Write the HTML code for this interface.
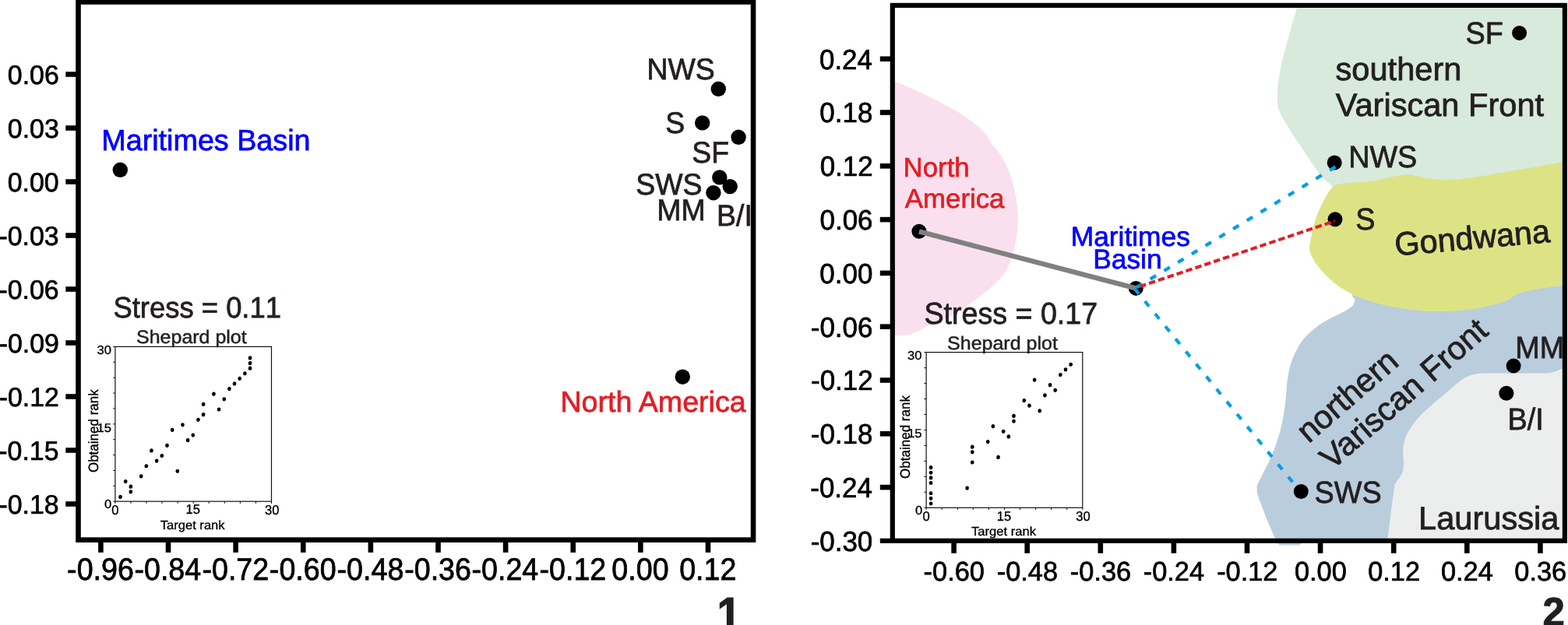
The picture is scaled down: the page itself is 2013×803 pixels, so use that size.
<!DOCTYPE html>
<html lang="en">
<head>
<meta charset="utf-8">
<title>NMDS plots</title>
<style>
html,body{margin:0;padding:0;background:#fff;}
body{width:2013px;height:803px;overflow:hidden;}
svg{display:block;font-family:"Liberation Sans", sans-serif;text-rendering:geometricPrecision;}
.nk{font-kerning:none;}
</style>
</head>
<body>
<svg width="2013" height="803" viewBox="0 0 2013 803">
<rect x="0" y="0" width="2013" height="803" fill="#fff"/>
<g id="regions">
<path fill="#fae0ee" d="M1143.0,102.5 C1144.0,102.8 1145.8,103.3 1149.0,104.6 C1152.2,105.9 1156.4,107.6 1162.4,110.2 C1168.4,112.8 1177.3,116.8 1184.8,120.3 C1192.3,123.8 1199.8,127.6 1207.3,131.5 C1214.8,135.4 1223.0,139.7 1229.7,143.8 C1236.4,147.9 1242.4,152.2 1247.6,156.1 C1252.8,160.0 1257.4,163.7 1261.1,167.4 C1264.8,171.2 1267.9,175.5 1270.0,178.6 C1272.1,181.7 1273.0,184.9 1273.6,186.2 L1273.6,186.2 C1274.9,187.5 1278.5,190.5 1281.3,194.3 C1284.1,198.1 1287.6,203.8 1290.2,208.8 C1292.8,213.8 1294.9,218.5 1297.0,224.5 C1299.1,230.5 1301.0,237.3 1302.6,244.7 C1304.2,252.1 1305.7,262.7 1306.4,269.0 C1307.1,275.3 1307.2,277.2 1307.0,282.4 C1306.8,287.6 1306.2,294.4 1305.5,300.4 C1304.8,306.4 1304.0,312.3 1302.6,318.3 C1301.2,324.3 1299.1,331.0 1297.0,336.2 C1294.9,341.4 1293.2,345.2 1290.2,349.7 C1287.2,354.2 1283.5,358.6 1279.0,363.1 C1274.5,367.6 1268.9,372.1 1263.3,376.6 C1257.7,381.1 1251.8,385.5 1245.4,390.0 C1239.1,394.5 1231.2,400.2 1225.2,403.8 C1219.2,407.4 1213.5,409.5 1209.2,411.4 C1204.9,413.3 1202.6,414.0 1199.3,415.4 C1196.0,416.8 1192.6,418.1 1189.3,419.8 C1186.0,421.5 1182.7,423.7 1179.4,425.3 C1176.1,426.9 1172.7,428.5 1169.4,429.5 C1166.1,430.5 1162.7,431.1 1159.4,431.3 C1156.1,431.6 1152.2,431.1 1149.5,431.0 C1146.8,430.9 1144.1,430.7 1143.0,430.6  Z"/>
<path fill="#d8eadc" d="M1666.3,5.0 C1666.1,5.8 1666.2,6.1 1665.0,10.1 C1663.8,14.1 1661.3,22.6 1659.4,29.1 C1657.5,35.6 1655.7,42.6 1653.8,49.3 C1651.9,56.0 1649.9,62.8 1648.2,69.5 C1646.5,76.2 1644.9,83.4 1643.7,89.7 C1642.5,96.0 1641.4,101.6 1640.8,107.6 C1640.2,113.6 1639.9,120.4 1639.9,125.6 C1639.9,130.8 1640.7,136.8 1640.8,139.0 L1640.8,139.0 C1641.6,140.8 1644.0,146.6 1645.8,150.0 C1647.6,153.4 1649.5,155.8 1651.6,159.2 C1653.6,162.6 1654.8,165.0 1658.1,170.2 C1661.4,175.4 1667.4,184.1 1671.6,190.4 C1675.8,196.8 1680.0,203.1 1683.5,208.3 C1687.0,213.5 1690.1,218.4 1692.5,221.7 C1694.9,225.0 1696.0,225.9 1698.0,228.0 C1700.0,230.1 1702.3,232.0 1704.5,234.0 C1706.7,236.0 1709.8,238.9 1710.9,239.9 L1760.0,250.0 L2011.0,250.0 L2011.0,5.0  Z"/>
<path fill="#b9cddd" d="M1760.0,384.0 C1756.1,383.2 1740.2,378.7 1736.8,379.0 C1733.4,379.3 1739.6,383.3 1739.4,385.7 C1739.2,388.1 1738.0,391.1 1735.7,393.5 C1733.4,395.9 1730.3,397.7 1725.6,400.3 C1720.9,402.9 1713.6,405.9 1707.6,409.2 C1701.6,412.5 1695.3,416.1 1689.7,420.4 C1684.1,424.7 1678.5,429.6 1674.0,435.0 C1669.5,440.4 1665.8,447.0 1662.8,453.0 C1659.8,459.0 1657.8,464.9 1656.1,470.9 C1654.4,476.9 1653.5,482.4 1652.7,488.8 C1651.9,495.2 1651.8,502.0 1651.1,509.0 C1650.3,516.0 1649.2,524.4 1648.2,531.0 C1647.2,537.6 1646.3,542.3 1644.8,548.5 C1643.3,554.7 1641.4,561.5 1639.2,568.1 C1637.0,574.7 1634.4,581.6 1631.4,588.3 C1628.4,595.0 1624.3,602.5 1621.3,608.5 C1618.3,614.5 1614.8,621.6 1613.5,624.2 L1613.5,624.2 C1613.7,626.1 1613.5,630.9 1614.6,635.4 C1615.7,639.9 1618.0,645.1 1620.2,651.1 C1622.4,657.1 1625.2,664.6 1628.0,671.3 C1630.8,678.0 1634.6,686.5 1637.0,691.4 C1639.4,696.2 1641.7,698.9 1642.6,700.4 L1668.0,700.4 L1671.0,697.6 L2011.0,697.6 L2011.0,360.0 L1760.0,360.0  Z"/>
<path fill="#eceeed" d="M2011.0,471.8 C2010.2,472.1 2009.8,472.2 2006.3,473.4 C2002.8,474.6 1996.1,478.0 1990.1,479.0 C1984.0,480.0 1973.3,479.4 1970.0,479.5 L1913.9,479.5 L1913.9,479.5 C1911.3,479.6 1903.1,479.4 1898.2,480.1 C1893.3,480.8 1888.8,481.8 1884.7,483.5 C1880.6,485.2 1878.0,486.8 1873.5,490.2 C1869.0,493.6 1863.4,498.9 1857.8,503.7 C1852.2,508.4 1845.5,513.9 1840.0,518.7 C1834.5,523.5 1829.2,527.8 1824.5,532.7 C1819.8,537.6 1815.4,543.3 1812.0,548.2 C1808.6,553.1 1806.1,557.4 1804.3,562.3 C1802.5,567.2 1801.6,572.1 1801.2,577.8 C1800.8,583.5 1802.3,591.3 1802.0,596.5 C1801.7,601.7 1801.5,604.8 1799.6,609.0 C1797.7,613.2 1792.1,619.8 1790.6,622.0 L1790.6,622.0 C1790.2,625.2 1788.8,635.8 1788.0,641.4 C1787.2,647.0 1786.7,650.5 1786.0,655.6 C1785.3,660.7 1784.7,666.2 1784.0,672.2 C1783.3,678.2 1782.1,687.0 1781.6,691.4 C1781.1,695.8 1780.9,697.4 1780.8,698.6 L1787.0,698.6 L1788.0,697.4 L2011.0,697.4  Z"/>
<path fill="#dde385" d="M2011.0,207.0 C2010.2,207.2 2014.2,206.4 2006.0,207.9 C1997.8,209.4 1977.4,213.3 1961.7,216.1 C1946.0,218.9 1924.4,222.7 1911.9,224.8 C1899.5,226.9 1895.3,227.6 1887.0,228.6 C1878.7,229.6 1870.3,230.8 1862.0,231.0 C1853.7,231.2 1844.2,230.6 1837.2,229.8 C1830.2,229.0 1824.4,227.0 1820.0,226.2 C1815.6,225.3 1814.0,224.9 1810.6,224.7 C1807.2,224.5 1804.3,224.5 1799.4,225.1 C1794.5,225.7 1787.0,227.4 1781.4,228.5 C1775.8,229.6 1770.9,230.9 1765.7,231.8 C1760.5,232.7 1755.6,233.6 1750.0,234.1 C1744.4,234.6 1737.3,234.4 1732.1,234.8 C1726.9,235.2 1722.2,235.8 1718.7,236.6 C1715.2,237.4 1712.2,239.3 1710.9,239.9 L1710.9,239.9 C1709.6,241.7 1705.6,246.4 1703.0,250.9 C1700.4,255.4 1697.7,260.6 1695.1,266.6 C1692.5,272.6 1689.3,280.1 1687.3,286.8 C1685.2,293.5 1683.8,301.4 1682.8,307.0 C1681.8,312.6 1680.8,316.1 1681.2,320.2 C1681.6,324.3 1683.0,327.4 1685.2,331.5 C1687.4,335.6 1689.7,339.6 1694.2,344.8 C1698.7,350.0 1705.0,357.2 1712.1,362.8 C1719.2,368.4 1727.4,374.0 1736.8,378.5 C1746.2,383.0 1757.4,386.7 1768.2,389.7 C1779.0,392.7 1790.6,394.7 1801.8,396.4 C1813.0,398.1 1826.1,399.3 1835.4,399.9 C1844.7,400.5 1850.3,400.4 1857.8,400.1 C1865.3,399.8 1872.8,399.2 1880.3,398.3 C1887.8,397.4 1895.2,396.4 1902.7,394.9 C1910.2,393.4 1919.1,391.2 1925.1,389.3 C1931.1,387.4 1934.9,385.6 1938.6,383.7 C1942.3,381.8 1944.2,379.6 1947.5,378.1 C1950.8,376.6 1953.1,376.1 1958.7,374.8 C1964.3,373.5 1973.3,371.6 1981.2,370.3 C1989.1,369.0 2001.3,367.6 2006.3,366.9 C2011.3,366.2 2010.2,366.4 2011.0,366.3  Z"/>
</g>
<rect x="84.3" y="92.2" width="13.9" height="6.6" fill="#000"/>
<rect x="84.3" y="161.2" width="13.9" height="6.6" fill="#000"/>
<rect x="84.3" y="230.2" width="13.9" height="6.6" fill="#000"/>
<rect x="84.3" y="299.2" width="13.9" height="6.6" fill="#000"/>
<rect x="84.3" y="368.2" width="13.9" height="6.6" fill="#000"/>
<rect x="84.3" y="437.2" width="13.9" height="6.6" fill="#000"/>
<rect x="84.3" y="506.2" width="13.9" height="6.6" fill="#000"/>
<rect x="84.3" y="575.2" width="13.9" height="6.6" fill="#000"/>
<rect x="84.3" y="644.2" width="13.9" height="6.6" fill="#000"/>
<text stroke="#000" stroke-width="0.68" class="nk" transform="translate(9.85,108.46) scale(1,1.0146)" font-size="33.87" fill="#000">0.06</text>
<text stroke="#000" stroke-width="0.68" class="nk" transform="translate(9.85,177.46) scale(1,1.0146)" font-size="33.87" fill="#000">0.03</text>
<text stroke="#000" stroke-width="0.68" class="nk" transform="translate(9.68,246.46) scale(1,1.0146)" font-size="33.87" fill="#000">0.00</text>
<text stroke="#000" stroke-width="0.68" class="nk" transform="translate(-1.5,315.46) scale(1,1.0146)" font-size="33.87" fill="#000">-0.03</text>
<text stroke="#000" stroke-width="0.68" class="nk" transform="translate(-1.5,384.46) scale(1,1.0146)" font-size="33.87" fill="#000">-0.06</text>
<text stroke="#000" stroke-width="0.68" class="nk" transform="translate(-1.33,453.46) scale(1,1.0146)" font-size="33.87" fill="#000">-0.09</text>
<text stroke="#000" stroke-width="0.68" class="nk" transform="translate(-1.33,522.46) scale(1,1.0146)" font-size="33.87" fill="#000">-0.12</text>
<text stroke="#000" stroke-width="0.68" class="nk" transform="translate(-1.67,591.46) scale(1,1.0146)" font-size="33.87" fill="#000">-0.15</text>
<text stroke="#000" stroke-width="0.68" class="nk" transform="translate(-1.5,660.46) scale(1,1.0146)" font-size="33.87" fill="#000">-0.18</text>
<rect x="126.1" y="695.95" width="6.6" height="13.9" fill="#000"/>
<rect x="212.72" y="695.95" width="6.6" height="13.9" fill="#000"/>
<rect x="299.34" y="695.95" width="6.6" height="13.9" fill="#000"/>
<rect x="385.96" y="695.95" width="6.6" height="13.9" fill="#000"/>
<rect x="472.58" y="695.95" width="6.6" height="13.9" fill="#000"/>
<rect x="559.2" y="695.95" width="6.6" height="13.9" fill="#000"/>
<rect x="645.82" y="695.95" width="6.6" height="13.9" fill="#000"/>
<rect x="732.44" y="695.95" width="6.6" height="13.9" fill="#000"/>
<rect x="819.06" y="695.95" width="6.6" height="13.9" fill="#000"/>
<rect x="905.68" y="695.95" width="6.6" height="13.9" fill="#000"/>
<text stroke="#000" stroke-width="0.75" class="nk" transform="translate(86.11,745.4) scale(1,1.0631)" font-size="37.63" fill="#000">-0.96</text>
<text stroke="#000" stroke-width="0.75" class="nk" transform="translate(172.44,745.4) scale(1,1.0631)" font-size="37.63" fill="#000">-0.84</text>
<text stroke="#000" stroke-width="0.75" class="nk" transform="translate(259.44,745.4) scale(1,1.0631)" font-size="37.63" fill="#000">-0.72</text>
<text stroke="#000" stroke-width="0.75" class="nk" transform="translate(345.87,745.4) scale(1,1.0631)" font-size="37.63" fill="#000">-0.60</text>
<text stroke="#000" stroke-width="0.75" class="nk" transform="translate(432.59,745.4) scale(1,1.0631)" font-size="37.63" fill="#000">-0.48</text>
<text stroke="#000" stroke-width="0.75" class="nk" transform="translate(519.21,745.4) scale(1,1.0631)" font-size="37.63" fill="#000">-0.36</text>
<text stroke="#000" stroke-width="0.75" class="nk" transform="translate(605.54,745.4) scale(1,1.0631)" font-size="37.63" fill="#000">-0.24</text>
<text stroke="#000" stroke-width="0.75" class="nk" transform="translate(692.54,745.4) scale(1,1.0631)" font-size="37.63" fill="#000">-0.12</text>
<text stroke="#000" stroke-width="0.75" class="nk" transform="translate(785.37,745.4) scale(1,1.0631)" font-size="37.63" fill="#000">0.00</text>
<text stroke="#000" stroke-width="0.75" class="nk" transform="translate(872.18,745.4) scale(1,1.0631)" font-size="37.63" fill="#000">0.12</text>
<rect x="1129.8" y="72.4" width="13.9" height="6.6" fill="#000"/>
<rect x="1129.8" y="141.2" width="13.9" height="6.6" fill="#000"/>
<rect x="1129.8" y="210" width="13.9" height="6.6" fill="#000"/>
<rect x="1129.8" y="278.8" width="13.9" height="6.6" fill="#000"/>
<rect x="1129.8" y="347.6" width="13.9" height="6.6" fill="#000"/>
<rect x="1129.8" y="416.4" width="13.9" height="6.6" fill="#000"/>
<rect x="1129.8" y="485.2" width="13.9" height="6.6" fill="#000"/>
<rect x="1129.8" y="554" width="13.9" height="6.6" fill="#000"/>
<rect x="1129.8" y="622.8" width="13.9" height="6.6" fill="#000"/>
<rect x="1129.8" y="691.7" width="14" height="6.2" fill="#000"/>
<text stroke="#000" stroke-width="0.7" class="nk" transform="translate(1052,88.64) scale(1,1.0321)" font-size="34.93" fill="#000">0.24</text>
<text stroke="#000" stroke-width="0.7" class="nk" transform="translate(1052.35,157.44) scale(1,1.0321)" font-size="34.93" fill="#000">0.18</text>
<text stroke="#000" stroke-width="0.7" class="nk" transform="translate(1052.7,226.24) scale(1,1.0321)" font-size="34.93" fill="#000">0.12</text>
<text stroke="#000" stroke-width="0.7" class="nk" transform="translate(1052.53,295.04) scale(1,1.0321)" font-size="34.93" fill="#000">0.06</text>
<text stroke="#000" stroke-width="0.7" class="nk" transform="translate(1052.35,363.84) scale(1,1.0321)" font-size="34.93" fill="#000">0.00</text>
<text stroke="#000" stroke-width="0.7" class="nk" transform="translate(1040.82,432.64) scale(1,1.0321)" font-size="34.93" fill="#000">-0.06</text>
<text stroke="#000" stroke-width="0.7" class="nk" transform="translate(1041,501.44) scale(1,1.0321)" font-size="34.93" fill="#000">-0.12</text>
<text stroke="#000" stroke-width="0.7" class="nk" transform="translate(1040.82,570.24) scale(1,1.0321)" font-size="34.93" fill="#000">-0.18</text>
<text stroke="#000" stroke-width="0.7" class="nk" transform="translate(1040.3,639.04) scale(1,1.0321)" font-size="34.93" fill="#000">-0.24</text>
<text stroke="#000" stroke-width="0.7" class="nk" transform="translate(1040.65,707.84) scale(1,1.0321)" font-size="34.93" fill="#000">-0.30</text>
<rect x="1221.3" y="696.9" width="6.6" height="13.9" fill="#000"/>
<rect x="1315.4" y="696.9" width="6.6" height="13.9" fill="#000"/>
<rect x="1409.5" y="696.9" width="6.6" height="13.9" fill="#000"/>
<rect x="1503.6" y="696.9" width="6.6" height="13.9" fill="#000"/>
<rect x="1597.7" y="696.9" width="6.6" height="13.9" fill="#000"/>
<rect x="1691.8" y="696.9" width="6.6" height="13.9" fill="#000"/>
<rect x="1785.9" y="696.9" width="6.6" height="13.9" fill="#000"/>
<rect x="1880" y="696.9" width="6.6" height="13.9" fill="#000"/>
<rect x="1974.1" y="696.9" width="6.6" height="13.9" fill="#000"/>
<text stroke="#000" stroke-width="0.69" class="nk" transform="translate(1185.58,745.85) scale(1,1.0122)" font-size="34.37" fill="#000">-0.60</text>
<text stroke="#000" stroke-width="0.69" class="nk" transform="translate(1279.77,745.85) scale(1,1.0122)" font-size="34.37" fill="#000">-0.48</text>
<text stroke="#000" stroke-width="0.69" class="nk" transform="translate(1373.87,745.85) scale(1,1.0122)" font-size="34.37" fill="#000">-0.36</text>
<text stroke="#000" stroke-width="0.69" class="nk" transform="translate(1467.71,745.85) scale(1,1.0122)" font-size="34.37" fill="#000">-0.24</text>
<text stroke="#000" stroke-width="0.69" class="nk" transform="translate(1562.15,745.85) scale(1,1.0122)" font-size="34.37" fill="#000">-0.12</text>
<text stroke="#000" stroke-width="0.69" class="nk" transform="translate(1661.93,745.85) scale(1,1.0122)" font-size="34.37" fill="#000">0.00</text>
<text stroke="#000" stroke-width="0.69" class="nk" transform="translate(1756.2,745.85) scale(1,1.0122)" font-size="34.37" fill="#000">0.12</text>
<text stroke="#000" stroke-width="0.69" class="nk" transform="translate(1849.95,745.85) scale(1,1.0122)" font-size="34.37" fill="#000">0.24</text>
<text stroke="#000" stroke-width="0.69" class="nk" transform="translate(1944.31,745.85) scale(1,1.0122)" font-size="34.37" fill="#000">0.36</text>
<circle cx="154.3" cy="218.3" r="9.7" fill="#000"/>
<circle cx="922.3" cy="114.3" r="9.7" fill="#000"/>
<circle cx="901.7" cy="157.9" r="9.7" fill="#000"/>
<circle cx="948.1" cy="176.3" r="9.7" fill="#000"/>
<circle cx="923.8" cy="227.9" r="9.7" fill="#000"/>
<circle cx="937.2" cy="239.6" r="9.7" fill="#000"/>
<circle cx="915.9" cy="247.7" r="9.7" fill="#000"/>
<circle cx="876.3" cy="484.2" r="9.7" fill="#000"/>
<text stroke="#0000ff" stroke-width="0.75" transform="translate(130.28,193.04) scale(1,1.0000)" font-size="37.73" fill="#0000ff">Maritimes Basin</text>
<text stroke="#231f20" stroke-width="0.75" transform="translate(830.47,101.84) scale(1,1.0300)" font-size="37.4" fill="#231f20">NWS</text>
<text stroke="#231f20" stroke-width="0.75" transform="translate(854.26,170.84) scale(1,1.0300)" font-size="37.4" fill="#231f20">S</text>
<text stroke="#231f20" stroke-width="0.75" transform="translate(888.37,208.94) scale(1,1.0300)" font-size="37.4" fill="#231f20">SF</text>
<text stroke="#231f20" stroke-width="0.75" transform="translate(816.36,249.64) scale(1,1.0300)" font-size="37.4" fill="#231f20">SWS</text>
<text stroke="#231f20" stroke-width="0.75" transform="translate(843.31,282.74) scale(1,1.0300)" font-size="37.4" fill="#231f20">MM</text>
<text stroke="#231f20" stroke-width="0.75" transform="translate(920.12,290.12) scale(1,1.0300)" font-size="37.4" fill="#231f20">B/I</text>
<text stroke="#e21e26" stroke-width="0.75" transform="translate(719.39,529.35) scale(1,1.0000)" font-size="37.62" fill="#e21e26">North America</text>
<text stroke="#231f20" stroke-width="0.73" class="nk" transform="translate(145.46,408.21) scale(1,1.0400)" font-size="36.41" fill="#231f20">Stress = 0.11</text>
<rect x="147.9" y="445.4" width="200.6" height="198.8" fill="#fff" stroke="#111" stroke-width="1.2"/>
<line x1="147.9" y1="644.2" x2="145.1" y2="644.2" stroke="#111" stroke-width="1"/>
<line x1="147.9" y1="644.2" x2="147.9" y2="647" stroke="#111" stroke-width="1"/>
<line x1="147.9" y1="624.32" x2="145.1" y2="624.32" stroke="#111" stroke-width="1"/>
<line x1="167.96" y1="644.2" x2="167.96" y2="647" stroke="#111" stroke-width="1"/>
<line x1="147.9" y1="604.44" x2="145.1" y2="604.44" stroke="#111" stroke-width="1"/>
<line x1="188.02" y1="644.2" x2="188.02" y2="647" stroke="#111" stroke-width="1"/>
<line x1="147.9" y1="584.56" x2="145.1" y2="584.56" stroke="#111" stroke-width="1"/>
<line x1="208.08" y1="644.2" x2="208.08" y2="647" stroke="#111" stroke-width="1"/>
<line x1="147.9" y1="564.68" x2="145.1" y2="564.68" stroke="#111" stroke-width="1"/>
<line x1="228.14" y1="644.2" x2="228.14" y2="647" stroke="#111" stroke-width="1"/>
<line x1="147.9" y1="544.8" x2="145.1" y2="544.8" stroke="#111" stroke-width="1"/>
<line x1="248.2" y1="644.2" x2="248.2" y2="647" stroke="#111" stroke-width="1"/>
<line x1="147.9" y1="524.92" x2="145.1" y2="524.92" stroke="#111" stroke-width="1"/>
<line x1="268.26" y1="644.2" x2="268.26" y2="647" stroke="#111" stroke-width="1"/>
<line x1="147.9" y1="505.04" x2="145.1" y2="505.04" stroke="#111" stroke-width="1"/>
<line x1="288.32" y1="644.2" x2="288.32" y2="647" stroke="#111" stroke-width="1"/>
<line x1="147.9" y1="485.16" x2="145.1" y2="485.16" stroke="#111" stroke-width="1"/>
<line x1="308.38" y1="644.2" x2="308.38" y2="647" stroke="#111" stroke-width="1"/>
<line x1="147.9" y1="465.28" x2="145.1" y2="465.28" stroke="#111" stroke-width="1"/>
<line x1="328.44" y1="644.2" x2="328.44" y2="647" stroke="#111" stroke-width="1"/>
<line x1="147.9" y1="445.4" x2="145.1" y2="445.4" stroke="#111" stroke-width="1"/>
<line x1="348.5" y1="644.2" x2="348.5" y2="647" stroke="#111" stroke-width="1"/>
<ellipse cx="154.56" cy="638.39" rx="2.3" ry="2.6" fill="#000"/>
<ellipse cx="161.22" cy="618.56" rx="2.3" ry="2.6" fill="#000"/>
<ellipse cx="167.88" cy="625.17" rx="2.3" ry="2.6" fill="#000"/>
<ellipse cx="167.88" cy="631.78" rx="2.3" ry="2.6" fill="#000"/>
<ellipse cx="181.2" cy="611.95" rx="2.3" ry="2.6" fill="#000"/>
<ellipse cx="187.86" cy="598.73" rx="2.3" ry="2.6" fill="#000"/>
<ellipse cx="194.52" cy="578.9" rx="2.3" ry="2.6" fill="#000"/>
<ellipse cx="201.18" cy="592.12" rx="2.3" ry="2.6" fill="#000"/>
<ellipse cx="207.84" cy="585.51" rx="2.3" ry="2.6" fill="#000"/>
<ellipse cx="214.5" cy="572.29" rx="2.3" ry="2.6" fill="#000"/>
<ellipse cx="221.16" cy="552.46" rx="2.3" ry="2.6" fill="#000"/>
<ellipse cx="227.82" cy="605.34" rx="2.3" ry="2.6" fill="#000"/>
<ellipse cx="234.48" cy="545.85" rx="2.3" ry="2.6" fill="#000"/>
<ellipse cx="241.14" cy="565.68" rx="2.3" ry="2.6" fill="#000"/>
<ellipse cx="247.8" cy="559.07" rx="2.3" ry="2.6" fill="#000"/>
<ellipse cx="254.46" cy="539.24" rx="2.3" ry="2.6" fill="#000"/>
<ellipse cx="261.12" cy="532.63" rx="2.3" ry="2.6" fill="#000"/>
<ellipse cx="261.12" cy="519.41" rx="2.3" ry="2.6" fill="#000"/>
<ellipse cx="274.44" cy="506.19" rx="2.3" ry="2.6" fill="#000"/>
<ellipse cx="281.1" cy="526.02" rx="2.3" ry="2.6" fill="#000"/>
<ellipse cx="287.76" cy="512.8" rx="2.3" ry="2.6" fill="#000"/>
<ellipse cx="294.42" cy="499.58" rx="2.3" ry="2.6" fill="#000"/>
<ellipse cx="301.08" cy="492.97" rx="2.3" ry="2.6" fill="#000"/>
<ellipse cx="307.74" cy="486.36" rx="2.3" ry="2.6" fill="#000"/>
<ellipse cx="314.4" cy="479.75" rx="2.3" ry="2.6" fill="#000"/>
<ellipse cx="321.06" cy="473.14" rx="2.3" ry="2.6" fill="#000"/>
<ellipse cx="321.06" cy="466.53" rx="2.3" ry="2.6" fill="#000"/>
<ellipse cx="321.06" cy="459.92" rx="2.3" ry="2.6" fill="#000"/>
<text stroke="#231f20" stroke-width="0.5" transform="translate(175.08,441.39) scale(1,0.9600)" font-size="24.98" fill="#231f20">Shepard plot</text>
<text stroke="#000" stroke-width="0.33" class="nk" transform="translate(124.46,455.04) scale(1,0.9500)" font-size="16.6" fill="#000">30</text>
<text stroke="#000" stroke-width="0.33" class="nk" transform="translate(124.54,554.77) scale(1,0.9500)" font-size="16.6" fill="#000">15</text>
<text stroke="#000" stroke-width="0.33" class="nk" transform="translate(134.05,653.29) scale(1,0.9500)" font-size="16.6" fill="#000">0</text>
<text stroke="#000" stroke-width="0.33" class="nk" transform="translate(143.34,660.6) scale(1,1.0300)" font-size="16.6" fill="#000">0</text>
<text stroke="#000" stroke-width="0.33" class="nk" transform="translate(238.4,660.47) scale(1,1.0300)" font-size="16.6" fill="#000">15</text>
<text stroke="#000" stroke-width="0.33" class="nk" transform="translate(340,660.6) scale(1,1.0300)" font-size="16.6" fill="#000">30</text>
<text stroke="#000" stroke-width="0.33" transform="translate(205.69,679.82) scale(1,0.9661)" font-size="16.58" fill="#000">Target rank</text>
<text stroke="#000" stroke-width="0.34" transform="translate(126.3,553.7) rotate(-90) scale(1,1.04)" font-size="17" text-anchor="middle" fill="#000">Obtained rank</text>
<rect x="1189.1" y="452.6" width="200.7" height="199.7" fill="#fff" stroke="#111" stroke-width="1.2"/>
<line x1="1189.1" y1="652.3" x2="1186.3" y2="652.3" stroke="#111" stroke-width="1"/>
<line x1="1189.1" y1="652.3" x2="1189.1" y2="655.1" stroke="#111" stroke-width="1"/>
<line x1="1189.1" y1="632.33" x2="1186.3" y2="632.33" stroke="#111" stroke-width="1"/>
<line x1="1209.17" y1="652.3" x2="1209.17" y2="655.1" stroke="#111" stroke-width="1"/>
<line x1="1189.1" y1="612.36" x2="1186.3" y2="612.36" stroke="#111" stroke-width="1"/>
<line x1="1229.24" y1="652.3" x2="1229.24" y2="655.1" stroke="#111" stroke-width="1"/>
<line x1="1189.1" y1="592.39" x2="1186.3" y2="592.39" stroke="#111" stroke-width="1"/>
<line x1="1249.31" y1="652.3" x2="1249.31" y2="655.1" stroke="#111" stroke-width="1"/>
<line x1="1189.1" y1="572.42" x2="1186.3" y2="572.42" stroke="#111" stroke-width="1"/>
<line x1="1269.38" y1="652.3" x2="1269.38" y2="655.1" stroke="#111" stroke-width="1"/>
<line x1="1189.1" y1="552.45" x2="1186.3" y2="552.45" stroke="#111" stroke-width="1"/>
<line x1="1289.45" y1="652.3" x2="1289.45" y2="655.1" stroke="#111" stroke-width="1"/>
<line x1="1189.1" y1="532.48" x2="1186.3" y2="532.48" stroke="#111" stroke-width="1"/>
<line x1="1309.52" y1="652.3" x2="1309.52" y2="655.1" stroke="#111" stroke-width="1"/>
<line x1="1189.1" y1="512.51" x2="1186.3" y2="512.51" stroke="#111" stroke-width="1"/>
<line x1="1329.59" y1="652.3" x2="1329.59" y2="655.1" stroke="#111" stroke-width="1"/>
<line x1="1189.1" y1="492.54" x2="1186.3" y2="492.54" stroke="#111" stroke-width="1"/>
<line x1="1349.66" y1="652.3" x2="1349.66" y2="655.1" stroke="#111" stroke-width="1"/>
<line x1="1189.1" y1="472.57" x2="1186.3" y2="472.57" stroke="#111" stroke-width="1"/>
<line x1="1369.73" y1="652.3" x2="1369.73" y2="655.1" stroke="#111" stroke-width="1"/>
<line x1="1189.1" y1="452.6" x2="1186.3" y2="452.6" stroke="#111" stroke-width="1"/>
<line x1="1389.8" y1="652.3" x2="1389.8" y2="655.1" stroke="#111" stroke-width="1"/>
<ellipse cx="1195.05" cy="646.98" rx="2.3" ry="2.6" fill="#000"/>
<ellipse cx="1195.05" cy="640.36" rx="2.3" ry="2.6" fill="#000"/>
<ellipse cx="1195.05" cy="633.74" rx="2.3" ry="2.6" fill="#000"/>
<ellipse cx="1195.05" cy="620.5" rx="2.3" ry="2.6" fill="#000"/>
<ellipse cx="1195.05" cy="613.88" rx="2.3" ry="2.6" fill="#000"/>
<ellipse cx="1195.05" cy="607.26" rx="2.3" ry="2.6" fill="#000"/>
<ellipse cx="1195.05" cy="600.64" rx="2.3" ry="2.6" fill="#000"/>
<ellipse cx="1241.63" cy="627.12" rx="2.3" ry="2.6" fill="#000"/>
<ellipse cx="1248.29" cy="594.02" rx="2.3" ry="2.6" fill="#000"/>
<ellipse cx="1248.29" cy="580.78" rx="2.3" ry="2.6" fill="#000"/>
<ellipse cx="1248.29" cy="574.16" rx="2.3" ry="2.6" fill="#000"/>
<ellipse cx="1268.25" cy="567.54" rx="2.3" ry="2.6" fill="#000"/>
<ellipse cx="1274.9" cy="547.68" rx="2.3" ry="2.6" fill="#000"/>
<ellipse cx="1281.56" cy="587.4" rx="2.3" ry="2.6" fill="#000"/>
<ellipse cx="1288.21" cy="554.3" rx="2.3" ry="2.6" fill="#000"/>
<ellipse cx="1294.86" cy="560.92" rx="2.3" ry="2.6" fill="#000"/>
<ellipse cx="1301.52" cy="541.06" rx="2.3" ry="2.6" fill="#000"/>
<ellipse cx="1301.52" cy="534.44" rx="2.3" ry="2.6" fill="#000"/>
<ellipse cx="1314.83" cy="514.58" rx="2.3" ry="2.6" fill="#000"/>
<ellipse cx="1321.48" cy="521.2" rx="2.3" ry="2.6" fill="#000"/>
<ellipse cx="1328.13" cy="488.1" rx="2.3" ry="2.6" fill="#000"/>
<ellipse cx="1334.79" cy="527.82" rx="2.3" ry="2.6" fill="#000"/>
<ellipse cx="1341.44" cy="507.96" rx="2.3" ry="2.6" fill="#000"/>
<ellipse cx="1348.1" cy="494.72" rx="2.3" ry="2.6" fill="#000"/>
<ellipse cx="1354.75" cy="501.34" rx="2.3" ry="2.6" fill="#000"/>
<ellipse cx="1361.4" cy="481.48" rx="2.3" ry="2.6" fill="#000"/>
<ellipse cx="1368.06" cy="474.86" rx="2.3" ry="2.6" fill="#000"/>
<ellipse cx="1374.71" cy="468.24" rx="2.3" ry="2.6" fill="#000"/>
<text stroke="#231f20" stroke-width="0.5" transform="translate(1216.08,448.74) scale(1,0.9600)" font-size="25" fill="#231f20">Shepard plot</text>
<text stroke="#000" stroke-width="0.33" class="nk" transform="translate(1165.06,462.44) scale(1,0.9500)" font-size="16.6" fill="#000">30</text>
<text stroke="#000" stroke-width="0.33" class="nk" transform="translate(1165.14,561.97) scale(1,0.9500)" font-size="16.6" fill="#000">15</text>
<text stroke="#000" stroke-width="0.33" class="nk" transform="translate(1175.05,661.29) scale(1,0.9500)" font-size="16.6" fill="#000">0</text>
<text stroke="#000" stroke-width="0.33" class="nk" transform="translate(1184.54,668.7) scale(1,1.0300)" font-size="16.6" fill="#000">0</text>
<text stroke="#000" stroke-width="0.33" class="nk" transform="translate(1279.7,668.57) scale(1,1.0300)" font-size="16.6" fill="#000">15</text>
<text stroke="#000" stroke-width="0.33" class="nk" transform="translate(1381.3,668.7) scale(1,1.0300)" font-size="16.6" fill="#000">30</text>
<text stroke="#000" stroke-width="0.33" transform="translate(1246.99,687.92) scale(1,0.9661)" font-size="16.58" fill="#000">Target rank</text>
<text stroke="#000" stroke-width="0.34" transform="translate(1167.5,561.5) rotate(-90) scale(1,1.04)" font-size="17" text-anchor="middle" fill="#000">Obtained rank</text>
<circle cx="1179.9" cy="297.3" r="9.5" fill="#000"/>
<circle cx="1458.3" cy="370.4" r="9.5" fill="#000"/>
<circle cx="1713.2" cy="209" r="9.5" fill="#000"/>
<circle cx="1714" cy="281.7" r="9.5" fill="#000"/>
<circle cx="1950.6" cy="42.4" r="9.5" fill="#000"/>
<circle cx="1943.1" cy="470.1" r="9.5" fill="#000"/>
<circle cx="1933.9" cy="505.3" r="9.5" fill="#000"/>
<circle cx="1670.3" cy="631.5" r="9.5" fill="#000"/>
<line x1="1179.9" y1="297.3" x2="1459.1" y2="370.59999999999997" stroke="#808080" stroke-width="6.4"/>
<line x1="1459" y1="369.35" x2="1715.6" y2="213.7" stroke="#009fe3" stroke-width="4.2" stroke-dasharray="8.6 12.13"/>
<line x1="1456.6" y1="370.9" x2="1659.4" y2="619.3" stroke="#009fe3" stroke-width="4.2" stroke-dasharray="8.6 12.2"/>
<line x1="1463.1" y1="368.2" x2="1713.6" y2="284" stroke="#e21e26" stroke-width="4.0" stroke-dasharray="8.5 4.03"/>
<text stroke="#e21e26" stroke-width="0.7" transform="translate(1159.62,227.14) scale(1,1.0000)" font-size="34.8" fill="#e21e26">North</text>
<text stroke="#e21e26" stroke-width="0.7" transform="translate(1161.83,266.64) scale(1,1.0000)" font-size="34.8" fill="#e21e26">America</text>
<text stroke="#0000ff" stroke-width="0.71" transform="translate(1374.77,316.24) scale(1,1.0000)" font-size="35.35" fill="#0000ff">Maritimes</text>
<text stroke="#0000ff" stroke-width="0.71" transform="translate(1403.2,345.39) scale(1,1.0000)" font-size="35.35" fill="#0000ff">Basin</text>
<text stroke="#231f20" stroke-width="0.75" class="nk" transform="translate(1186.41,416.15) scale(1,1.0400)" font-size="37.63" fill="#231f20">Stress = 0.17</text>
<text stroke="#231f20" stroke-width="0.76" transform="translate(1881.56,55.78) scale(1,1.0450)" font-size="37.8" fill="#231f20">SF</text>
<text stroke="#231f20" stroke-width="0.83" transform="translate(1714.52,102.92) scale(1,1.0000)" font-size="41.6" fill="#231f20">southern</text>
<text stroke="#231f20" stroke-width="0.83" transform="translate(1714.76,149.27) scale(1,1.0000)" font-size="41.6" fill="#231f20">Variscan Front</text>
<text stroke="#231f20" stroke-width="0.76" transform="translate(1731.15,214.58) scale(1,1.0450)" font-size="37.8" fill="#231f20">NWS</text>
<text stroke="#231f20" stroke-width="0.76" transform="translate(1740.18,295.33) scale(1,1.0450)" font-size="37.8" fill="#231f20">S</text>
<text stroke="#231f20" stroke-width="0.76" transform="translate(1945.18,459.58) scale(1,1.0450)" font-size="37.8" fill="#231f20">MM</text>
<text stroke="#231f20" stroke-width="0.76" transform="translate(1935.48,551.87) scale(1,1.0450)" font-size="37.8" fill="#231f20">B/I</text>
<text stroke="#231f20" stroke-width="0.76" transform="translate(1687.5,646.28) scale(1,1.0450)" font-size="37.8" fill="#231f20">SWS</text>
<text stroke="#231f20" stroke-width="0.83" transform="translate(1821.02,680.07) scale(1,1.0000)" font-size="41.6" fill="#231f20">Laurussia</text>
<text stroke="#231f20" stroke-width="0.83" transform="translate(1791.8,328.6) rotate(-5.1) scale(1,1.02)" font-size="41.3" fill="#231f20">Gondwana</text>
<text stroke="#231f20" stroke-width="0.84" transform="translate(1680,570.3) rotate(-41)" font-size="41.9" fill="#231f20">northern</text>
<text stroke="#231f20" stroke-width="0.84" transform="translate(1709.9,604.7) rotate(-41)" font-size="41.8" fill="#231f20">Variscan Front</text>
<rect x="100.5" y="2.5" width="866.55" height="691.15" fill="none" stroke="#000" stroke-width="6.6"/>
<rect x="1145.8" y="6.9" width="863.1" height="687.9" fill="none" stroke="#000" stroke-width="6.2"/>
<text stroke="#231f20" stroke-width="1.11" transform="translate(920.6,809.6) scale(1,1.095)" font-size="55.5" fill="#231f20" font-weight="bold">1</text>
<text stroke="#231f20" stroke-width="1.02" transform="translate(1980.5,803.9) scale(1,1.015)" font-size="51" fill="#231f20" font-weight="bold">2</text>
</svg>
</body>
</html>
